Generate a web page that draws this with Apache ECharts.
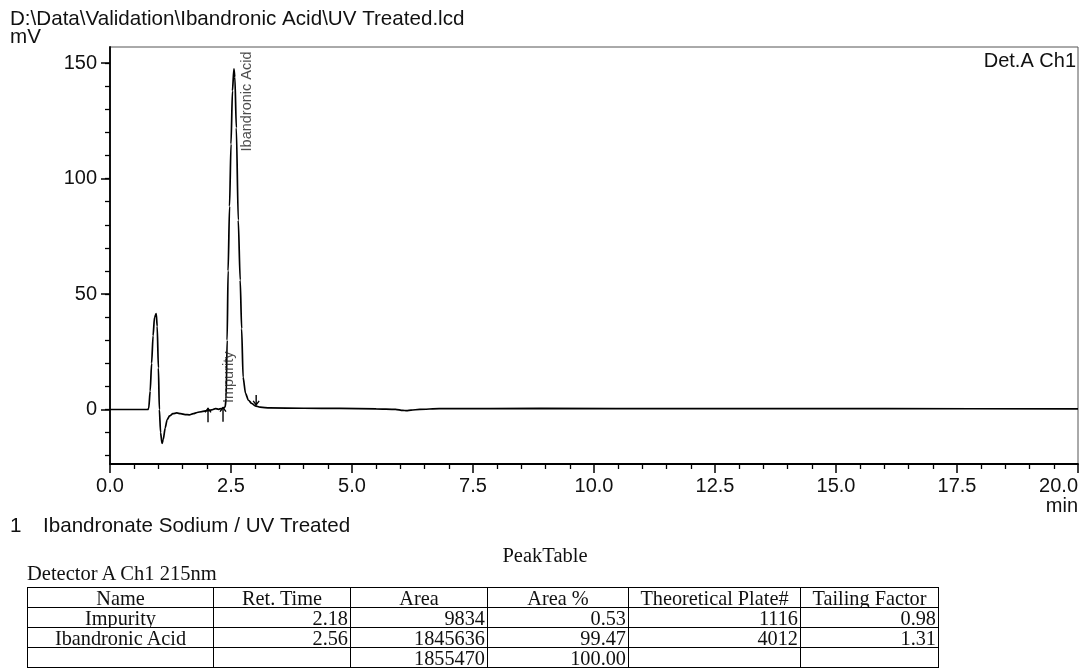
<!DOCTYPE html>
<html>
<head>
<meta charset="utf-8">
<script src="https://cdn.jsdelivr.net/npm/echarts@6/dist/echarts.min.js"></script>
<style>
html,body{margin:0;padding:0;background:#fff;}
#wrap{position:relative;width:1085px;height:668px;overflow:hidden;background:#fff;}
#chart{position:absolute;left:0;top:0;width:1085px;height:668px;}
.serif{position:absolute;font-family:"Liberation Serif","Times New Roman",serif;color:#111;font-size:20.5px;line-height:20px;white-space:nowrap;}
#peakTitle{left:0;width:1090px;text-align:center;top:545px;}
#detector{left:27px;top:563px;}
#tbl{position:absolute;left:27px;top:587px;border-collapse:collapse;table-layout:fixed;font-family:"Liberation Serif","Times New Roman",serif;font-size:20.3px;color:#111;}
#tbl td{border:1px solid #000;height:20px;padding:0 2px 0 2px;line-height:18px;box-sizing:border-box;white-space:nowrap;overflow:hidden;}
#tbl td.c{text-align:center;}
#tbl td.r{text-align:right;}
</style>
</head>
<body>
<div id="wrap">
  <div id="chart"></div>
  <div id="peakTitle" class="serif"></div>
  <div id="detector" class="serif"></div>
  <table id="tbl"></table>
</div>
<script>
// ---------- data ----------
const fileTitle = 'D:\\Data\\Validation\\Ibandronic Acid\\UV Treated.lcd';
const yUnit = 'mV';
const xUnit = 'min';
const channelLabel = 'Det.A Ch1';
const sampleIndex = '1';
const sampleName = 'Ibandronate Sodium / UV Treated';

const traceTime = [0, 0.78, 0.80, 0.83, 0.86, 0.89, 0.92, 0.955, 0.975, 1.00, 1.02, 1.045, 1.075, 1.10, 1.14, 1.18, 1.23, 1.30, 1.38, 1.46, 1.55, 1.64, 1.72, 1.80, 1.90, 2.00, 2.10, 2.18, 2.24, 2.30, 2.35, 2.38, 2.40, 2.42, 2.44, 2.47, 2.50, 2.53, 2.56, 2.58, 2.61, 2.65, 2.69, 2.72, 2.75, 2.80, 2.86, 2.93, 3.00, 3.10, 3.30, 4.00, 4.75, 5.50, 5.90, 6.05, 6.13, 6.22, 6.40, 6.80, 8.90, 12.0, 16.0, 20.0];
const traceMV   = [0, 0, 0.5, 8, 20, 32, 40, 41.5, 36, 18, 0, -10, -14.7, -13, -8, -4.5, -2.8, -1.8, -1.5, -1.8, -2.2, -2.3, -1.8, -1.3, -0.9, -0.5, -0.2, 0.4, 0.1, 0.4, 0.7, 1.2, 5, 30, 60, 88, 115, 138, 147.5, 144, 122, 82, 56, 35, 14, 7, 4, 2.6, 1.6, 1.0, 0.7, 0.55, 0.45, 0.3, 0.1, -0.35, -0.5, -0.3, 0.1, 0.35, 0.45, 0.4, 0.35, 0.3];

const xMin = 0, xMax = 20, xStep = 2.5;
const yMin = -23.6, yMax = 157;
const yMajorTicks = [0, 50, 100, 150];
const yMinorTicks = [-20, -10, 0, 10, 20, 30, 40, 50, 60, 70, 80, 90, 100, 110, 120, 130, 140, 150];

const peakNames = ['Impurity', 'Ibandronic Acid'];
const peakTimes = [2.18, 2.56];
const peakHeights = [0.4, 147.5];

const markerTimes = [2.025, 2.335, 3.02];
const markerMV = [0.5, 0.8, 2.0];
const markerDirs = ['up', 'up', 'down'];

const tableTitle = 'PeakTable';
const detectorText = 'Detector A Ch1 215nm';
const tableHeader = ['Name', 'Ret. Time', 'Area', 'Area %', 'Theoretical Plate#', 'Tailing Factor'];
const retTimes = ['2.18', '2.56'];
const areas = ['9834', '1845636'];
const areaPct = ['0.53', '99.47'];
const plates = ['1116', '4012'];
const tailing = ['0.98', '1.31'];
const totalArea = '1855470';
const totalPct = '100.00';

// ---------- styles ----------
const SANS = '"Liberation Sans", Arial, sans-serif';
const colWidths = [186, 137, 137, 141, 172, 138];
const labelOffsets = [[13.5, -5], [14, 83]];

// ---------- table ----------
document.getElementById('peakTitle').textContent = tableTitle;
document.getElementById('detector').textContent = detectorText;
(function buildTable(){
  const tbl = document.getElementById('tbl');
  const cg = document.createElement('colgroup');
  colWidths.forEach(w => { const c = document.createElement('col'); c.style.width = w + 'px'; cg.appendChild(c); });
  tbl.appendChild(cg);
  function addRow(cells, aligns){
    const tr = document.createElement('tr');
    cells.forEach((t, i) => { const td = document.createElement('td'); td.textContent = t; td.className = aligns[i]; tr.appendChild(td); });
    tbl.appendChild(tr);
  }
  addRow(tableHeader, ['c','c','c','c','c','c']);
  peakNames.forEach((n, i) => addRow([n, retTimes[i], areas[i], areaPct[i], plates[i], tailing[i]], ['c','r','r','r','r','r']));
  addRow(['', '', totalArea, totalPct, '', ''], ['c','r','r','r','r','r']);
})();

// ---------- chart ----------
const chart = echarts.init(document.getElementById('chart'), null, {renderer: 'canvas'});
const traceData = traceTime.map((t, i) => [t, traceMV[i]]);

function txt(x, y, text, opts){
  opts = opts || {};
  return {
    type: 'text', x: x, y: y, silent: true,
    style: {
      text: text, font: (opts.size || 20.6) + 'px ' + SANS, fill: opts.color || '#111',
      align: opts.align || 'left', verticalAlign: 'middle',
      textAlign: opts.align || 'left', textVerticalAlign: 'middle'
    }
  };
}

const option = {
  animation: false,
  backgroundColor: '#fff',
  grid: {left: 110, top: 47, width: 968, height: 417, show: true, borderColor: '#555', borderWidth: 1, backgroundColor: 'transparent', containLabel: false},
  xAxis: {
    type: 'value', min: xMin, max: xMax, interval: xStep, position: 'bottom',
    axisLine: {show: true, onZero: false, lineStyle: {color: '#000', width: 1.8}},
    axisTick: {show: true, inside: false, length: 9, lineStyle: {color: '#000', width: 1.5}},
    minorTick: {show: true, splitNumber: 5, length: 5, lineStyle: {color: '#000', width: 1.3}},
    axisLabel: {margin: 12, fontFamily: SANS, fontSize: 20, color: '#111', formatter: v => v.toFixed(1), alignMaxLabel: 'right'},
    splitLine: {show: false}, minorSplitLine: {show: false}
  },
  yAxis: [
    {
      type: 'value', min: yMin, max: yMax, position: 'left',
      axisLine: {show: true, onZero: false, lineStyle: {color: '#000', width: 1.8}},
      axisTick: {show: true, inside: false, length: 9, customValues: yMajorTicks, lineStyle: {color: '#000', width: 1.5}},
      axisLabel: {customValues: yMajorTicks, margin: 13, fontFamily: SANS, fontSize: 20, color: '#111'},
      splitLine: {show: false}
    },
    {
      type: 'value', min: yMin, max: yMax, position: 'left', offset: 0,
      axisLine: {show: false},
      axisTick: {show: true, inside: false, length: 5, customValues: yMinorTicks, lineStyle: {color: '#000', width: 1.3}},
      axisLabel: {show: false},
      splitLine: {show: false}
    }
  ],
  series: [
    {
      type: 'line', name: 'trace', data: traceData, showSymbol: false, symbol: 'none',
      smooth: 0.25, smoothMonotone: 'x',
      lineStyle: {color: '#000', width: 1.7}, z: 3, silent: true
    },
    {
      type: 'scatter', name: 'peakLabels', symbolSize: 1, silent: true,
      itemStyle: {color: 'rgba(0,0,0,0)'},
      data: peakNames.map((n, i) => ({name: n, value: [peakTimes[i], peakHeights[i]], label: {position: labelOffsets[i]}})),
      label: {show: true, formatter: '{b}', rotate: 90, align: 'left', verticalAlign: 'middle', fontFamily: SANS, fontSize: 14.5, color: '#222'},
      z: 4
    },
    {
      type: 'custom', name: 'markers', silent: true, z: 5,
      data: markerTimes.map((t, i) => [t, markerMV[i], markerDirs[i] === 'up' ? 1 : -1]),
      encode: {x: 0, y: 1},
      renderItem: function(params, api){
        const p = api.coord([api.value(0), api.value(1)]);
        const d = api.value(2);
        const x = p[0], y = p[1];
        const tail = d > 0 ? y + 14 : y - 10;
        const hy = d > 0 ? y + 4 : y - 4;
        return {type: 'group', children: [
          {type: 'line', shape: {x1: x, y1: y, x2: x, y2: tail}, style: {stroke: '#000', lineWidth: 1.4}},
          {type: 'polyline', shape: {points: [[x - 3, hy], [x, y], [x + 3, hy]]}, style: {stroke: '#000', lineWidth: 1.4, fill: null}}
        ]};
      }
    }
  ],
  graphic: [
    txt(10, 19, fileTitle),
    txt(10, 37, yUnit),
    txt(1076, 61, channelLabel, {align: 'right', size: 20}),
    txt(1078, 506, xUnit, {align: 'right', size: 20}),
    txt(10, 526, sampleIndex),
    txt(43, 526, sampleName)
  ]
};
chart.setOption(option);
</script>
</body>
</html>
